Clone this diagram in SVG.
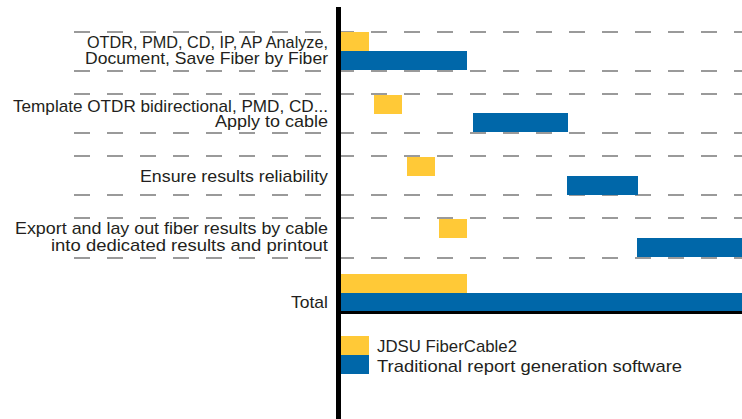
<svg xmlns="http://www.w3.org/2000/svg" width="742" height="419" viewBox="0 0 742 419">
<style>
.lbl{font-family:"Liberation Sans",Arial,sans-serif;font-size:17px;fill:#231f20;text-anchor:end}
.leg{font-family:"Liberation Sans",Arial,sans-serif;font-size:17px;fill:#231f20}
.grid{stroke:#9a9a9a;stroke-width:2;stroke-dasharray:16 17;fill:none}
.y{fill:#ffc937}
.b{fill:#0067a9}
</style>
<rect width="742" height="419" fill="#fff"/>
<g id="gridlines">
<line class="grid" x1="74" y1="32" x2="742" y2="32"/>
<line class="grid" x1="74" y1="71" x2="742" y2="71"/>
<line class="grid" x1="74" y1="94" x2="742" y2="94"/>
<line class="grid" x1="74" y1="133" x2="742" y2="133"/>
<line class="grid" x1="74" y1="156" x2="742" y2="156"/>
<line class="grid" x1="74" y1="195" x2="742" y2="195"/>
<line class="grid" x1="74" y1="218" x2="742" y2="218"/>
<line class="grid" x1="74" y1="258" x2="742" y2="258"/>
</g>
<g id="row1">
<text class="lbl" x="328" y="48" textLength="241" lengthAdjust="spacingAndGlyphs">OTDR, PMD, CD, IP, AP Analyze,</text>
<text class="lbl" x="328" y="64" textLength="243" lengthAdjust="spacingAndGlyphs">Document, Save Fiber by Fiber</text>
<rect class="y" x="338" y="32" width="31" height="19"/>
<rect class="b" x="338" y="51" width="129" height="19"/>
</g>
<g id="row2">
<text class="lbl" x="328" y="112" textLength="315" lengthAdjust="spacingAndGlyphs">Template OTDR bidirectional, PMD, CD...</text>
<text class="lbl" x="328" y="127" textLength="113" lengthAdjust="spacingAndGlyphs">Apply to cable</text>
<rect class="y" x="374" y="95" width="28" height="19"/>
<rect class="b" x="473" y="113" width="95" height="19"/>
</g>
<g id="row3">
<text class="lbl" x="328" y="182" textLength="188" lengthAdjust="spacingAndGlyphs">Ensure results reliability</text>
<rect class="y" x="407" y="157" width="28" height="19"/>
<rect class="b" x="567" y="176" width="71" height="19"/>
</g>
<g id="row4">
<text class="lbl" x="328" y="234" textLength="313" lengthAdjust="spacingAndGlyphs">Export and lay out fiber results by cable</text>
<text class="lbl" x="328" y="251" textLength="277" lengthAdjust="spacingAndGlyphs">into dedicated results and printout</text>
<rect class="y" x="439" y="219" width="28" height="19"/>
<rect class="b" x="637" y="238" width="105" height="19"/>
</g>
<g id="total">
<text class="lbl" x="328" y="308" textLength="37" lengthAdjust="spacingAndGlyphs">Total</text>
<rect class="y" x="338" y="274" width="129" height="19"/>
<rect class="b" x="338" y="293" width="404" height="19"/>
</g>
<g id="axes">
<rect x="336" y="7" width="5" height="412" fill="#000"/>
<rect x="336" y="311" width="406" height="3" fill="#000"/>
</g>
<g id="legend">
<rect class="y" x="341" y="336" width="28" height="19"/>
<rect class="b" x="341" y="355" width="28" height="19"/>
<text class="leg" x="377" y="352" textLength="140" lengthAdjust="spacingAndGlyphs">JDSU FiberCable2</text>
<text class="leg" x="377" y="372" textLength="305" lengthAdjust="spacingAndGlyphs">Traditional report generation software</text>
</g>
</svg>
